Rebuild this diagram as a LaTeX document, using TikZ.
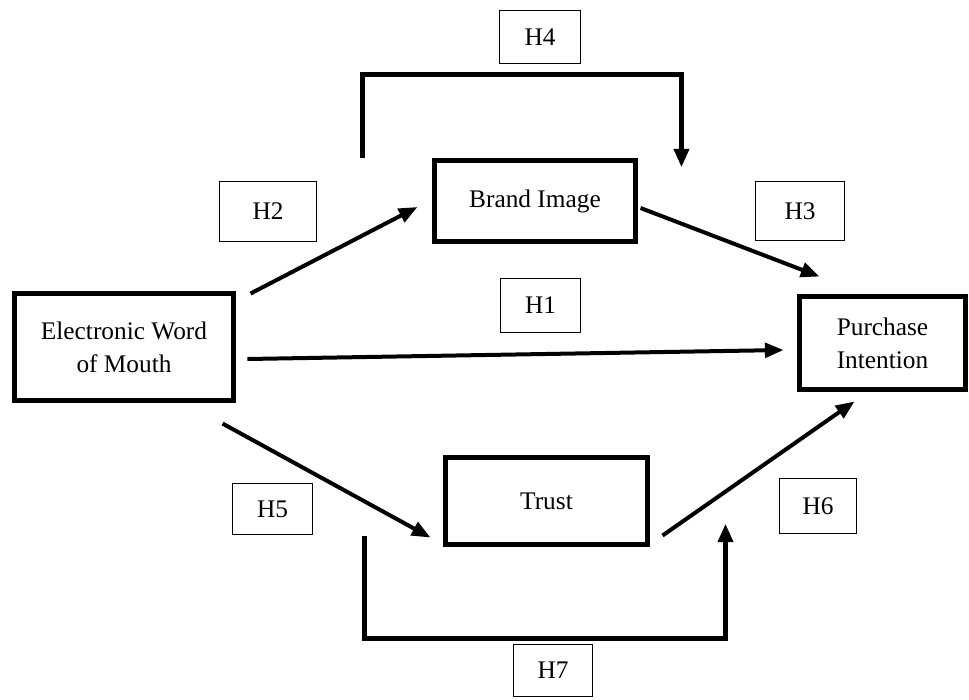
\documentclass[tikz,border=0pt]{standalone}
\usepackage{fontspec}
\setmainfont{Liberation Serif}
\usetikzlibrary{arrows.meta}

\tikzset{
    var/.style={draw, line width=3.75pt, align=center, inner sep=0pt,
                font=\fontsize{19}{25}\selectfont},
    hyp/.style={draw, line width=1pt, inner sep=0pt,
                font=\fontsize{19}{25}\selectfont},
    path/.style={line width=3pt, -{Triangle[length=14pt,width=11pt]}},
    bracket/.style={line width=3.75pt, -{Triangle[length=14pt,width=11pt]}}
}

\begin{document}
\begin{tikzpicture}[x=0.75pt, y=-0.75pt]
    \useasboundingbox (0, 0) rectangle (969, 699);

    \node[var, minimum width=164.25pt, minimum height=80.25pt] (ewom)  at (124, 347)   {Electronic Word\\of Mouth};
    \node[var, minimum width=150.75pt, minimum height=60.75pt] (brand) at (535, 201)   {Brand Image};
    \node[var, minimum width=151.5pt,  minimum height=65.25pt] (trust) at (546.5, 501) {Trust};
    \node[var, minimum width=124.5pt,  minimum height=69.75pt] (pi)    at (882.5, 343) {Purchase\\Intention};

    \node[hyp, minimum width=60pt,    minimum height=40.5pt]  (h1) at (540.5, 305.5) {H1};
    \node[hyp, minimum width=72.75pt, minimum height=45pt]    (h2) at (268, 211.5)   {H2};
    \node[hyp, minimum width=66.75pt, minimum height=44.25pt] (h3) at (800, 211)     {H3};
    \node[hyp, minimum width=60.75pt, minimum height=39.75pt] (h4) at (540, 37)      {H4};
    \node[hyp, minimum width=60pt,    minimum height=38.25pt] (h5) at (272.5, 509)   {H5};
    \node[hyp, minimum width=57.75pt, minimum height=41.25pt] (h6) at (818, 506)     {H6};
    \node[hyp, minimum width=59.25pt, minimum height=39pt]    (h7) at (553, 670.5)   {H7};

    \draw[path] ([xshift=10.9pt, yshift=-1.9pt]ewom.north east) --
                ([xshift=-10.9pt, yshift=-4.5pt]brand.west);
    \draw[path] ([xshift=1.9pt, yshift=-5.25pt]brand.east) --
                ([xshift=16.9pt, yshift=13.1pt]pi.north west);
    \draw[path] ([xshift=8.6pt, yshift=-9pt]ewom.east) --
                ([xshift=-10.1pt, yshift=-5.25pt]pi.west);
    \draw[path] ([xshift=-10.1pt, yshift=-15.4pt]ewom.south east) --
                ([xshift=-9.4pt, yshift=7.1pt]trust.south west);
    \draw[path] ([xshift=9.4pt, yshift=8.6pt]trust.south east) --
                ([xshift=43.1pt, yshift=-7.1pt]pi.south west);

    \draw[bracket] ([xshift=-52.1pt]brand.north west) -- ++(0, -84) -|
                   ([xshift=32.6pt, yshift=-7.1pt]brand.north east);
    \draw[bracket] ([xshift=-58.9pt, yshift=7.9pt]trust.south west) -- ++(0, 102) -|
                   ([xshift=56.6pt, yshift=17.6pt]trust.south east);
\end{tikzpicture}
\end{document}
